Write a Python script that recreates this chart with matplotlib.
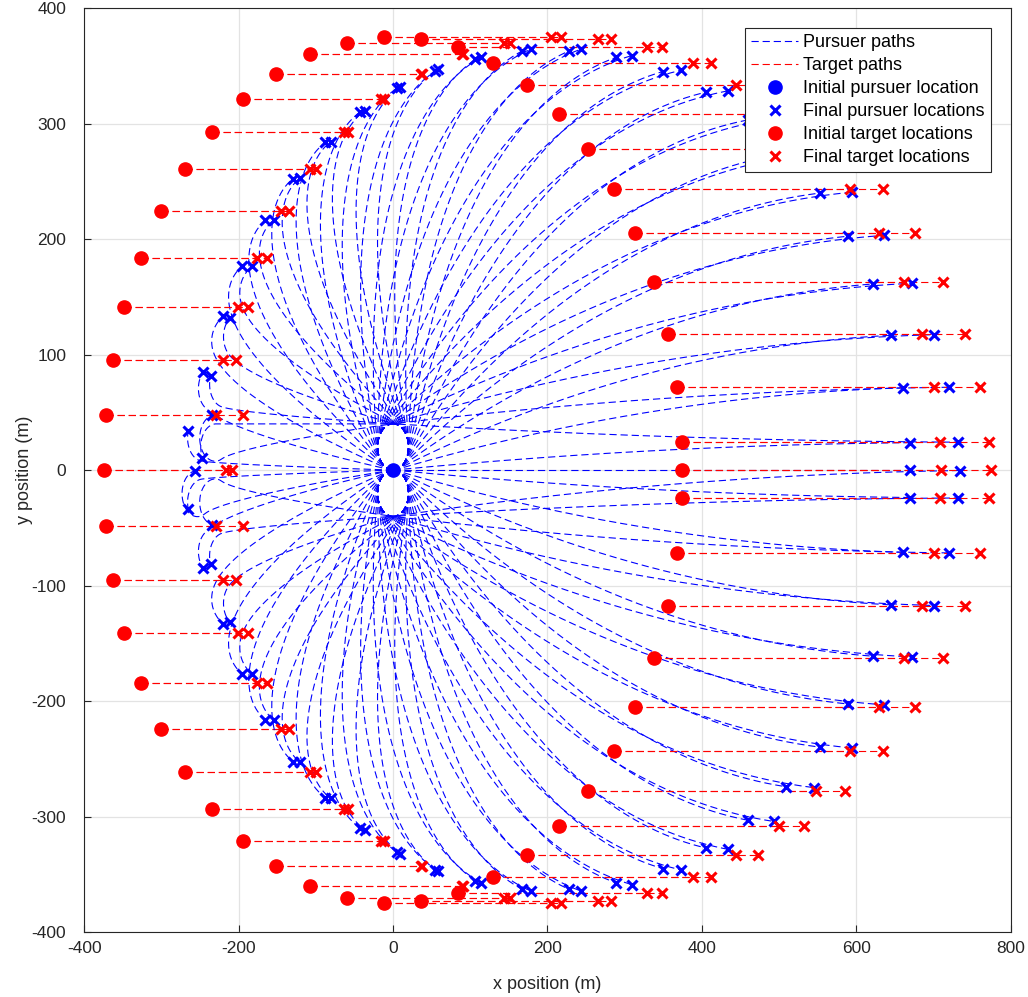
import math
import numpy as np
import matplotlib
matplotlib.use('Agg')
import matplotlib.pyplot as plt
from matplotlib.lines import Line2D

# initial target locations (m)
target_x0 = [375, 374, 368, 356, 338, 314, 286, 252, 215, 173, 130, 84, 36,
             -12, -60, -107, -152, -194, -234, -270, -301, -327, -348, -363, -372,
             -375,
             -372, -363, -348, -327, -301, -270, -234, -194, -152, -107, -60, -12,
             36, 84, 130, 173, 215, 252, 286, 314, 338, 356, 368, 374]
target_y0 = [0, 24, 72, 118, 163, 205, 243, 278, 308, 333, 352, 366, 373,
             375, 370, 360, 343, 321, 293, 261, 224, 184, 141, 95, 48,
             0,
             -48, -95, -141, -184, -224, -261, -293, -321, -343, -360, -370, -375,
             -373, -366, -352, -333, -308, -278, -243, -205, -163, -118, -72, -24]

# pursuer set-up
pursuer_start = (0.0, 0.0)
pursuer_headings = [0.0, math.pi]   # two runs per target
pursuer_speed = 2.0
target_speed = 1.0
turn_radius = 20.0
capture_range = 40.0
capture_cone = math.radians(22)

TWO_PI = 2 * math.pi


def mod2pi(a):
    a = a % TWO_PI
    if a > TWO_PI - 1e-9:
        a = 0.0
    return a


def dubins_first(px, py, ph, gx, gy, gh, R):
    # shortest dubins path, returns (turn direction of first arc, first arc length)
    dx = gx - px
    dy = gy - py
    d = math.hypot(dx, dy) / R
    th = math.atan2(dy, dx)
    a = mod2pi(ph - th)
    b = mod2pi(gh - th)
    sa, sb, ca, cb = math.sin(a), math.sin(b), math.cos(a), math.cos(b)
    c_ab = math.cos(a - b)
    best = (1e18, 0, 0.0)

    p_sq = 2 + d * d - 2 * c_ab + 2 * d * (sa - sb)
    if p_sq >= 0:
        tmp1 = math.atan2(cb - ca, d + sa - sb)
        t = mod2pi(tmp1 - a); q = mod2pi(b - tmp1)
        L = t + math.sqrt(p_sq) + q
        if L < best[0]:
            best = (L, 1, t)
    p_sq = 2 + d * d - 2 * c_ab + 2 * d * (sb - sa)
    if p_sq >= 0:
        tmp1 = math.atan2(ca - cb, d - sa + sb)
        t = mod2pi(a - tmp1); q = mod2pi(tmp1 - b)
        L = t + math.sqrt(p_sq) + q
        if L < best[0]:
            best = (L, -1, t)
    p_sq = -2 + d * d + 2 * c_ab + 2 * d * (sa + sb)
    if p_sq >= 0:
        p = math.sqrt(p_sq)
        tmp0 = math.atan2(-ca - cb, d + sa + sb) - math.atan2(-2.0, p)
        t = mod2pi(tmp0 - a); q = mod2pi(tmp0 - b)
        L = t + p + q
        if L < best[0]:
            best = (L, 1, t)
    p_sq = -2 + d * d + 2 * c_ab - 2 * d * (sa + sb)
    if p_sq >= 0:
        p = math.sqrt(p_sq)
        tmp0 = math.atan2(ca + cb, d - sa - sb) - math.atan2(2.0, p)
        t = mod2pi(a - tmp0); q = mod2pi(b - tmp0)
        L = t + p + q
        if L < best[0]:
            best = (L, -1, t)
    tmp0 = (6 - d * d + 2 * c_ab + 2 * d * (sa - sb)) / 8
    if abs(tmp0) <= 1:
        phi = math.atan2(ca - cb, d - sa + sb)
        p = mod2pi(TWO_PI - math.acos(tmp0))
        t = mod2pi(a - phi + mod2pi(p / 2))
        q = mod2pi(a - b - t + mod2pi(p))
        L = t + p + q
        if L < best[0]:
            best = (L, -1, t)
    tmp0 = (6 - d * d + 2 * c_ab + 2 * d * (sb - sa)) / 8
    if abs(tmp0) <= 1:
        phi = math.atan2(ca - cb, d + sa - sb)
        p = mod2pi(TWO_PI - math.acos(tmp0))
        t = mod2pi(-a - phi + p / 2)
        q = mod2pi(mod2pi(b) - a - t + mod2pi(p))
        L = t + p + q
        if L < best[0]:
            best = (L, 1, t)
    return best[1], best[2] * R


def run(tx, ty, h0, ds=1.0):
    x, y = pursuer_start
    h = h0
    xs, ys = [x], [y]
    for _ in range(3000):
        rx, ry = x - tx, y - ty
        if math.hypot(rx, ry) <= capture_range and abs(math.atan2(ry, -rx)) <= capture_cone:
            break
        s, arc = dubins_first(x, y, h, tx, ty, 0.0, turn_radius)
        turn = min(arc, ds)
        if turn > 0:
            h2 = h + s * turn / turn_radius
            x += s * turn_radius * (math.sin(h2) - math.sin(h))
            y += s * turn_radius * (math.cos(h) - math.cos(h2))
            h = h2
        rest = ds - turn
        x += rest * math.cos(h)
        y += rest * math.sin(h)
        tx += ds * target_speed / pursuer_speed
        xs.append(x)
        ys.append(y)
    return xs, ys, tx


plt.rcParams['font.family'] = ['Liberation Sans', 'DejaVu Sans']
plt.rcParams['axes.unicode_minus'] = False
fig = plt.figure(figsize=(10.28, 9.97), dpi=100)
ax = fig.add_axes([0.082, 0.065, 0.901, 0.927])

dash = (6.5, 3.5)
fin_px, fin_py, fin_tx, fin_ty = [], [], [], []
for tx0, ty0 in zip(target_x0, target_y0):
    for h0 in pursuer_headings:
        xs, ys, txf = run(float(tx0), float(ty0), h0)
        ax.plot(xs, ys, '--', color='blue', lw=0.8, dashes=dash)
        ax.plot([tx0, txf], [ty0, ty0], '--', color='red', lw=0.8, dashes=dash)
        fin_px.append(xs[-1]); fin_py.append(ys[-1])
        fin_tx.append(txf); fin_ty.append(ty0)

ax.plot([pursuer_start[0]], [pursuer_start[1]], 'o', color='blue', ms=9.5)
ax.plot(fin_px, fin_py, 'x', color='blue', ms=7, mew=2.2, ls='none')
ax.plot(target_x0, target_y0, 'o', color='red', ms=9.5, ls='none')
ax.plot(fin_tx, fin_ty, 'x', color='red', ms=7, mew=2.2, ls='none')

ax.set_xlim(-400, 800)
ax.set_ylim(-400, 400)
ax.set_xticks(range(-400, 801, 200))
ax.set_yticks(range(-400, 401, 100))
ax.grid(True, color='#e3e3e3', lw=0.9)
ax.set_axisbelow(True)
ax.tick_params(direction='in', length=5, labelsize=12.5, colors='#262626')
ax.tick_params(axis='y', pad=13)
ax.tick_params(axis='x', pad=6)
for sp in ax.spines.values():
    sp.set_color('#262626')
ax.set_xlabel('x position (m)', fontsize=13, color='#262626', labelpad=15)
ax.set_ylabel('y position (m)', fontsize=13, color='#262626', labelpad=-1)

handles = [
    Line2D([], [], color='blue', ls='--', lw=0.8, dashes=dash),
    Line2D([], [], color='red', ls='--', lw=0.8, dashes=dash),
    Line2D([], [], color='blue', marker='o', ls='none', ms=9.5),
    Line2D([], [], color='blue', marker='x', ls='none', ms=7, mew=2.2),
    Line2D([], [], color='red', marker='o', ls='none', ms=9.5),
    Line2D([], [], color='red', marker='x', ls='none', ms=7, mew=2.2),
]
labels = ['Pursuer paths', 'Target paths', 'Initial pursuer location',
          'Final pursuer locations', 'Initial target locations', 'Final target locations']
leg = ax.legend(handles, labels, loc='upper right', fontsize=13, fancybox=False,
                framealpha=1, edgecolor='#262626', borderaxespad=1.1,
                handlelength=2.6, handletextpad=0.25, labelspacing=0.33, borderpad=0.35)
leg.get_frame().set_linewidth(0.8)

fig.savefig('out.png', dpi=100)
